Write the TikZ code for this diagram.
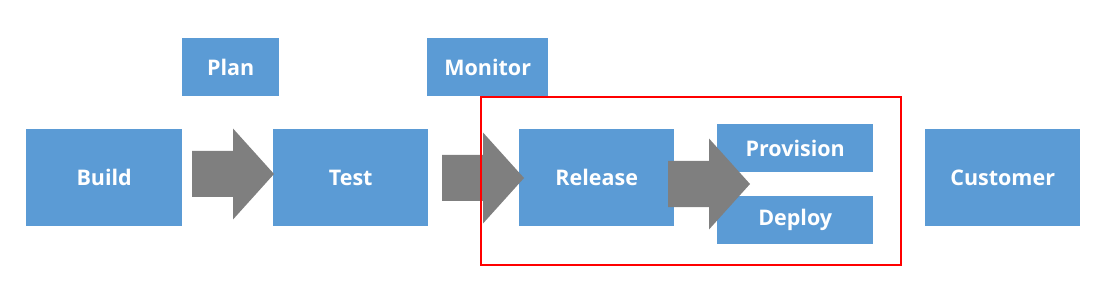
\documentclass[tikz,border=0pt]{standalone}
\usepackage{fontspec}
\setmainfont{Open Sans}
\usepackage{xcolor}
\usepackage{tikz}
\definecolor{boxblue}{HTML}{5B9BD5}
\definecolor{arrowgray}{HTML}{7F7F7F}
\definecolor{framered}{HTML}{FF0000}
\tikzset{
  box/.style={fill=boxblue, text=white, inner sep=0pt,
    font=\fontsize{21.5}{25}\selectfont\bfseries, anchor=north west},
  bigarrow/.pic={
    \fill[arrowgray] (0,-23) -- (41,-23) -- (41,-45.5) -- (82,0)
      -- (41,45.5) -- (41,23) -- (0,23) -- cycle;
  }
}

\begin{document}
\begin{tikzpicture}[x=1pt, y=-1pt]
  \useasboundingbox (0,0) rectangle (1113,307);

  % Main row (top left corners, in px)
  \node[box, minimum width=156, minimum height=97] (build) at (26,129) {Build};
  \node[box, minimum width=155, minimum height=97] (test) at (273,129) {Test};
  \node[box, minimum width=155, minimum height=97] (release) at (519,129) {Release};
  \node[box, minimum width=156, minimum height=48] (provision) at (717,124) {Provision};
  \node[box, minimum width=156, minimum height=48] (deploy) at (717,196) {Deploy};
  \node[box, minimum width=155, minimum height=97] (customer) at (925,129) {Customer};

  % Top row
  \node[box, minimum width=97, minimum height=58] (plan) at (182,38) {Plan};
  \node[box, minimum width=121, minimum height=58] (monitor) at (427,38) {Monitor};

  % Block arrows between stages
  \pic at (192,174) {bigarrow};
  \pic at (442,178) {bigarrow};
  \pic at (668,184) {bigarrow};

  % Highlight frame round release part
  \draw[framered, line width=2.2pt] (481,97) rectangle (901,265);
\end{tikzpicture}
\end{document}
